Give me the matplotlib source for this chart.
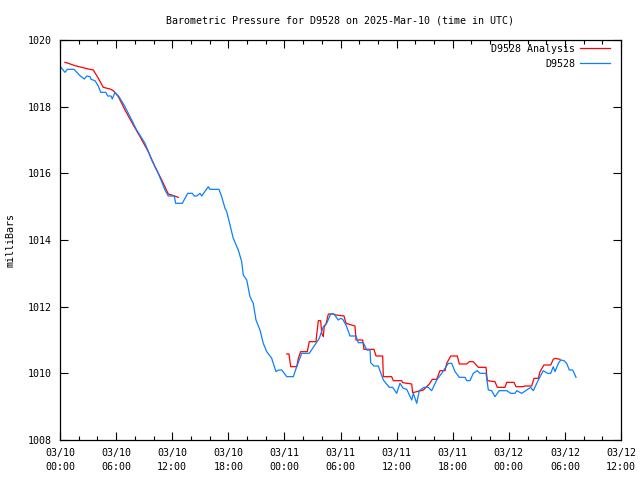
import numpy as np
import matplotlib
matplotlib.use("Agg")
import matplotlib.pyplot as plt
from matplotlib.ticker import MultipleLocator, FixedLocator

# ---- data (hours since 03/10 00:00 UTC, pressure in mbar) ----
obs_hours = [0.0, 0.53, 0.78, 1.50, 2.14, 2.60, 2.86, 3.21, 3.32, 3.74, 4.10, 4.35, 4.89, 5.10, 5.45,
             5.59, 5.88, 6.31, 6.95, 7.67, 8.20, 9.09, 9.81, 10.51, 11.23, 11.58, 12.22, 12.37, 13.08,
             13.66, 14.15, 14.36, 14.62, 14.97, 15.16, 15.86, 16.04, 17.01, 17.29, 17.65, 17.83, 18.18,
             18.53, 19.07, 19.43, 19.60, 19.97, 20.32, 20.67, 20.96, 21.39, 21.74, 22.11, 22.64, 23.10,
             23.35, 23.71, 24.25, 24.95, 25.32, 25.85, 26.66, 27.73, 28.16, 28.52, 28.95, 29.30, 29.76,
             30.02, 30.24, 30.59, 31.02, 31.66, 31.90, 32.44, 32.80, 33.16, 33.23, 33.58, 34.04, 34.58,
             35.22, 35.58, 36.01, 36.36, 36.72, 37.08, 37.62, 37.79, 38.15, 38.43, 38.93, 39.39, 39.75,
             40.29, 40.82, 41.53, 41.89, 42.25, 42.71, 43.32, 43.50, 43.85, 44.20, 44.63, 44.92, 45.56,
             45.81, 46.17, 46.52, 46.98, 47.78, 48.20, 48.66, 48.84, 49.38, 49.91, 50.34, 50.62, 51.16,
             51.69, 52.12, 52.48, 52.76, 52.94, 53.30, 53.55, 53.90, 54.19, 54.47, 54.83, 55.19]
obs_press = [1019.22, 1019.03, 1019.12, 1019.12, 1018.93, 1018.83, 1018.92, 1018.90, 1018.82, 1018.78,
             1018.62, 1018.43, 1018.43, 1018.32, 1018.32, 1018.23, 1018.43, 1018.30, 1018.00, 1017.60,
             1017.30, 1016.90, 1016.40, 1016.00, 1015.50, 1015.32, 1015.32, 1015.10, 1015.10, 1015.40,
             1015.40, 1015.32, 1015.32, 1015.40, 1015.32, 1015.60, 1015.52, 1015.52, 1015.30, 1014.95,
             1014.85, 1014.45, 1014.05, 1013.70, 1013.35, 1012.95, 1012.80, 1012.30, 1012.10, 1011.60,
             1011.30, 1010.90, 1010.65, 1010.45, 1010.05, 1010.10, 1010.10, 1009.90, 1009.90, 1010.20,
             1010.60, 1010.60, 1011.05, 1011.40, 1011.50, 1011.78, 1011.78, 1011.60, 1011.65, 1011.62,
             1011.45, 1011.12, 1011.12, 1010.92, 1010.92, 1010.70, 1010.70, 1010.32, 1010.22, 1010.22,
             1009.80, 1009.58, 1009.58, 1009.40, 1009.70, 1009.55, 1009.52, 1009.20, 1009.40, 1009.10,
             1009.48, 1009.58, 1009.58, 1009.48, 1009.80, 1010.00, 1010.30, 1010.30, 1010.05, 1009.88,
             1009.88, 1009.78, 1009.78, 1010.00, 1010.08, 1010.00, 1010.00, 1009.50, 1009.48, 1009.30,
             1009.48, 1009.48, 1009.40, 1009.40, 1009.48, 1009.40, 1009.50, 1009.58, 1009.48, 1009.80,
             1010.08, 1010.00, 1010.00, 1010.20, 1010.05, 1010.30, 1010.40, 1010.38, 1010.30, 1010.10,
             1010.10, 1009.88]

ana1_hours = [0.53, 0.89, 1.60, 2.32, 3.03, 3.56, 4.10, 4.63, 5.35, 5.70, 6.24, 6.95, 7.84, 8.56,
              9.44, 10.16, 10.88, 11.58, 11.95, 12.65]
ana1_press = [1019.33, 1019.30, 1019.23, 1019.18, 1019.13, 1019.10, 1018.85, 1018.58, 1018.53, 1018.48,
              1018.30, 1017.90, 1017.45, 1017.10, 1016.65, 1016.20, 1015.80, 1015.38, 1015.35, 1015.28]

ana2_hours = [24.25, 24.49, 24.67, 25.32, 25.49, 25.74, 26.45, 26.66, 27.38, 27.45, 27.63, 27.88, 27.99,
              28.16, 28.26, 28.45, 28.70, 29.23, 29.52, 30.37, 30.59, 31.55, 31.66, 32.37, 32.51, 33.58,
              33.80, 34.51, 34.58, 35.47, 35.65, 36.54, 36.65, 37.61, 37.72, 38.15, 38.86, 39.50, 39.82,
              40.29, 40.64, 41.18, 41.36, 41.79, 42.49, 42.71, 43.50, 43.78, 44.20, 44.74, 45.56, 45.70,
              46.52, 46.77, 47.59, 47.78, 48.56, 48.77, 49.49, 49.73, 50.45, 50.70, 51.16, 51.34, 51.76,
              52.48, 52.76, 52.94, 53.48]
ana2_press = [1010.58, 1010.58, 1010.20, 1010.20, 1010.45, 1010.65, 1010.65, 1010.95, 1010.95, 1011.15,
              1011.58, 1011.58, 1011.20, 1011.10, 1011.40, 1011.48, 1011.78, 1011.78, 1011.75, 1011.72,
              1011.50, 1011.42, 1011.00, 1011.00, 1010.72, 1010.72, 1010.52, 1010.52, 1009.90, 1009.90,
              1009.78, 1009.78, 1009.72, 1009.68, 1009.42, 1009.45, 1009.50, 1009.68, 1009.82, 1009.82,
              1010.08, 1010.08, 1010.30, 1010.52, 1010.52, 1010.28, 1010.28, 1010.35, 1010.35, 1010.18,
              1010.18, 1009.78, 1009.75, 1009.58, 1009.58, 1009.73, 1009.73, 1009.60, 1009.60, 1009.62,
              1009.62, 1009.85, 1009.85, 1010.05, 1010.25, 1010.25, 1010.42, 1010.45, 1010.42]

x_tick_hours = [0, 6, 12, 18, 24, 30, 36, 42, 48, 54, 60]
x_tick_labels = ["03/10\n00:00", "03/10\n06:00", "03/10\n12:00", "03/10\n18:00", "03/11\n00:00",
                 "03/11\n06:00", "03/11\n12:00", "03/11\n18:00", "03/12\n00:00", "03/12\n06:00",
                 "03/12\n12:00"]
y_ticks = [1008, 1010, 1012, 1014, 1016, 1018, 1020]

# ---- plot ----
plt.rcParams['font.family'] = ['DejaVu Sans Mono']
plt.rcParams['font.size'] = 7.2

fig = plt.figure(figsize=(6.4, 4.8), dpi=100)
ax = fig.add_axes([60/640, 40/480, 561/640, 400/480])

ana_h = np.concatenate([ana1_hours, [np.nan], ana2_hours])
ana_p = np.concatenate([ana1_press, [np.nan], ana2_press])
ax.plot(ana_h, ana_p, color='#ff0000', lw=0.9, label='D9528 Analysis')
ax.plot(obs_hours, obs_press, color='#0a80ff', lw=0.9, label='D9528')

ax.set_xlim(0, 60)
ax.set_ylim(1008, 1020)
ax.xaxis.set_major_locator(FixedLocator(x_tick_hours))
ax.set_xticklabels(x_tick_labels, linespacing=1.5)
ax.xaxis.set_minor_locator(MultipleLocator(2))
ax.set_yticks(y_ticks)
ax.tick_params(which='both', direction='in', top=True, right=True, colors='black', labelsize=7.2)
ax.tick_params(which='major', length=6, width=0.8, pad=6)
ax.tick_params(which='minor', length=3, width=0.8)
for s in ax.spines.values():
    s.set_linewidth(0.9)

ax.set_title("Barometric Pressure for D9528 on 2025-Mar-10 (time in UTC)", fontsize=7.2, pad=12)
fig.text(11/640, 0.5, "milliBars", rotation=90, ha='center', va='center', fontsize=7.2)

ax.legend(loc='upper right', bbox_to_anchor=(1 - 11/561, 1 - 4/400), frameon=False,
          markerfirst=False, handlelength=3.0, handletextpad=0.5, labelspacing=0.5,
          borderpad=0, borderaxespad=0, fontsize=7.2)

fig.savefig("out.png", dpi=100)
